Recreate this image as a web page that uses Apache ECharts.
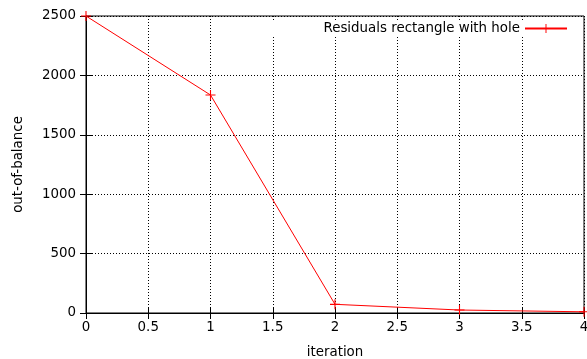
<!DOCTYPE html>
<html>
<head>
<meta charset="utf-8">
<script src="https://cdn.jsdelivr.net/npm/echarts@6/dist/echarts.min.js"></script>
<style>
html,body{margin:0;padding:0;background:#fff;}
#c{width:587px;height:359px;}
</style>
</head>
<body>
<div id="c"></div>
<script>
var iterations = [0, 1, 2, 3, 4];
var residuals = [2500, 1835, 73, 25, 10];
var seriesName = 'Residuals rectangle with hole';
var xTicks = [0, 0.5, 1, 1.5, 2, 2.5, 3, 3.5, 4];
var yTicks = [0, 500, 1000, 1500, 2000, 2500];

var FONT = 'DejaVu Sans';
var FS = 13.4;
var points = iterations.map(function (x, i) { return [x, residuals[i]]; });
var crossPath = 'path://M0,4.45h10v1.1h-10z M4.45,0h1.1v10h-1.1z';

var chart = echarts.init(document.getElementById('c'), null, {renderer: 'canvas'});
var dotted = {show: true, lineStyle: {color: '#000', type: [1, 2], width: 1}};
chart.setOption({
  animation: false,
  backgroundColor: '#fff',
  textStyle: {fontFamily: FONT},
  grid: {left: 86, right: 3, top: 16, bottom: 46, outerBoundsMode: 'none', containLabel: false,
         show: true, borderColor: '#000', borderWidth: 1, backgroundColor: 'transparent'},
  graphic: [{
    type: 'rect', z: 5,
    shape: {x: 262, y: 20, width: 321, height: 17},
    style: {fill: '#fff'}
  }],
  legend: {
    show: true,
    z: 10,
    right: 3,
    top: 20,
    align: 'right',
    padding: [2, 16, 2, 5],
    itemWidth: 42,
    itemHeight: 11,
    itemGap: 10,
    textStyle: {fontFamily: FONT, fontSize: FS, color: '#000'},
    data: [{name: seriesName}]
  },
  xAxis: [{
    type: 'value',
    min: xTicks[0], max: xTicks[xTicks.length - 1], interval: 0.5,
    name: 'iteration', nameLocation: 'middle', nameGap: 33,
    nameTextStyle: {fontFamily: FONT, fontSize: FS, color: '#000'},
    axisLine: {show: true, lineStyle: {color: '#000', width: 1}},
    axisTick: {show: true, inside: true, length: 6, lineStyle: {color: '#000'}},
    axisLabel: {show: true, margin: 8, fontFamily: FONT, fontSize: FS, color: '#000'},
    splitLine: dotted
  }, {
    type: 'value', position: 'top',
    min: xTicks[0], max: xTicks[xTicks.length - 1], interval: 0.5,
    axisLine: {show: false},
    axisTick: {show: true, inside: true, length: 6, lineStyle: {color: '#000'}},
    axisLabel: {show: false},
    splitLine: {show: false}
  }],
  yAxis: [{
    type: 'value',
    min: yTicks[0], max: yTicks[yTicks.length - 1], interval: 500,
    name: 'out-of-balance', nameLocation: 'middle', nameGap: 61,
    nameTextStyle: {fontFamily: FONT, fontSize: FS, color: '#000'},
    axisLine: {show: true, lineStyle: {color: '#000', width: 1}},
    axisTick: {show: true, inside: true, length: 6, lineStyle: {color: '#000'}},
    axisLabel: {show: true, margin: 10, fontFamily: FONT, fontSize: FS, color: '#000',
                formatter: function (v) { return String(v); }},
    splitLine: dotted
  }, {
    type: 'value', position: 'right',
    min: yTicks[0], max: yTicks[yTicks.length - 1], interval: 500,
    axisLine: {show: false},
    axisTick: {show: true, inside: true, length: 6, lineStyle: {color: '#000'}},
    axisLabel: {show: false},
    splitLine: {show: false}
  }],
  series: [{
    name: seriesName,
    type: 'line',
    xAxisIndex: 0, yAxisIndex: 0,
    data: points,
    clip: false,
    symbol: crossPath,
    symbolSize: 10,
    showAllSymbol: true,
    color: '#ff0000',
    lineStyle: {color: '#ff0000', width: 1},
    itemStyle: {color: '#ff0000', borderWidth: 0},
    emphasis: {disabled: true}
  }]
});
</script>
</body>
</html>
